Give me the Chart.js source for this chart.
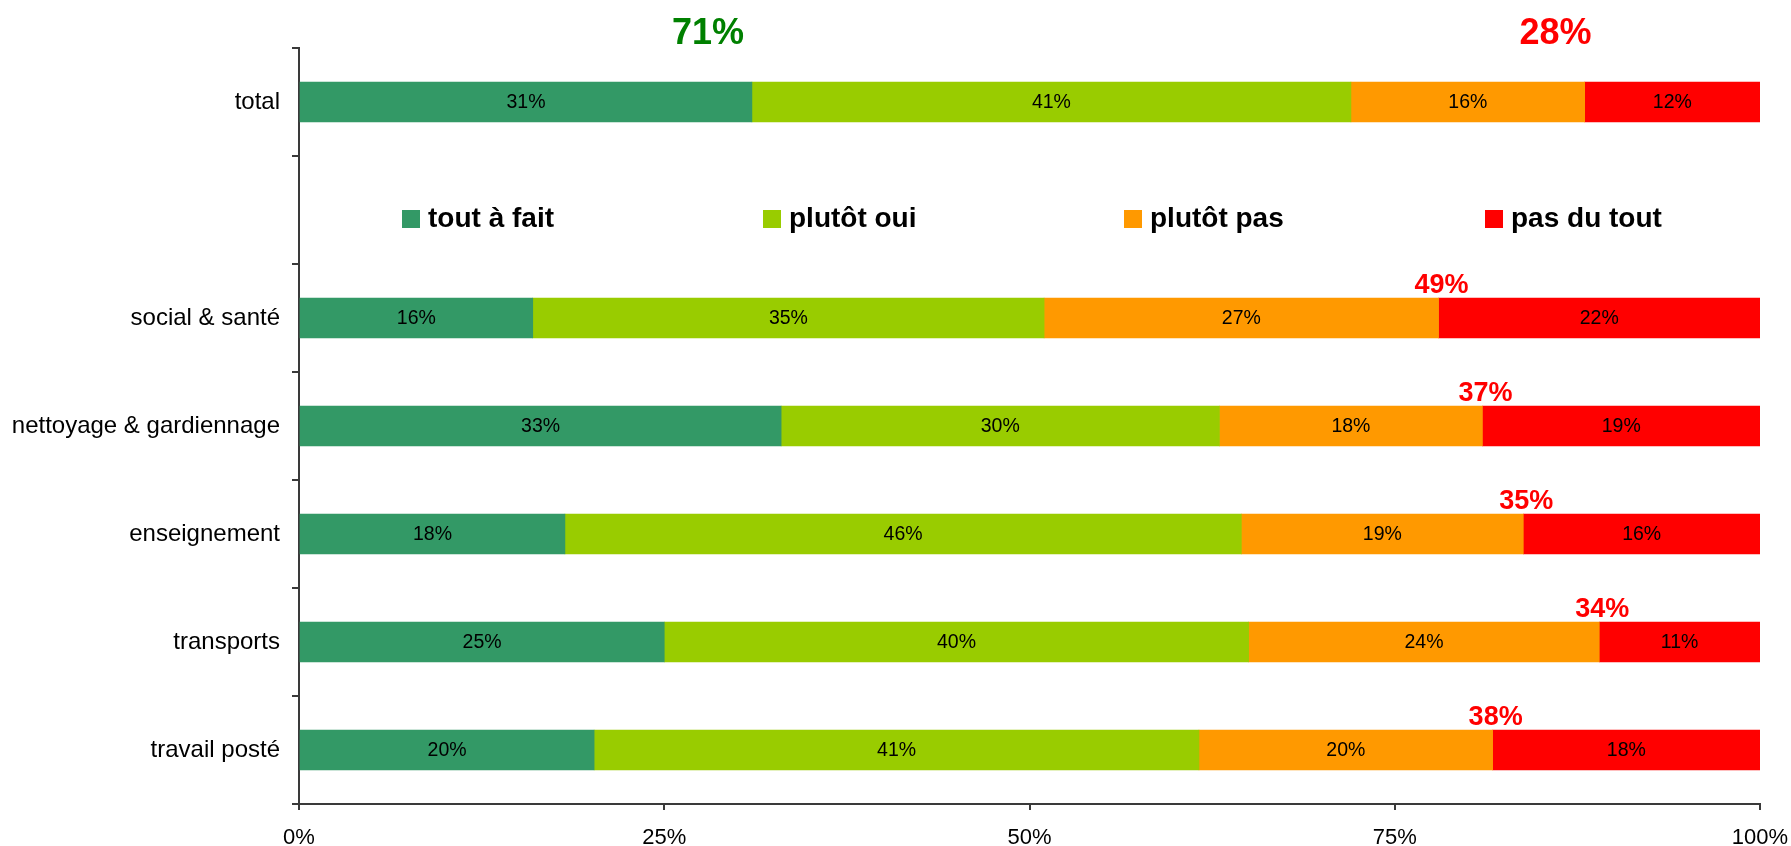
<!DOCTYPE html>
<html><head><meta charset="utf-8">
<script src="https://cdn.jsdelivr.net/npm/chart.js@4.4.1/dist/chart.umd.min.js"></script>
<style>html,body{margin:0;padding:0;background:#fff;overflow:hidden}</style>
</head><body>
<canvas id="c" width="1791" height="846"></canvas>
<script>
// ---- data ----
const categories = ['total', '', 'social & santé', 'nettoyage & gardiennage', 'enseignement', 'transports', 'travail posté'];
const seriesNames = ['tout à fait', 'plutôt oui', 'plutôt pas', 'pas du tout'];
const toutAFait = [31, null, 16, 33, 18.2, 25, 20.2];
const plutotOui = [41, null, 35, 30, 46.3, 40, 41.4];
const plutotPas = [16, null, 27, 18, 19.3, 24, 20.1];
const pasDuTout = [12, null, 22, 19, 16.2, 11, 18.3];
const positiveTotals = ['71%', '', '', '', '', '', ''];
const negativeTotals = ['28%', '', '49%', '37%', '35%', '34%', '38%'];
const xTickValues = [0, 25, 50, 75, 100];

// ---- styles ----
const FONT = '"Liberation Sans", Arial, sans-serif';
const seriesColors = ['#339966', '#99CC00', '#FF9900', '#FF0000'];
const axisColor = '#3a3a3a';

const overlay = {
  id: 'overlay',
  afterDatasetsDraw(chart) {
    const ctx = chart.ctx;
    const xs = chart.scales.x, ys = chart.scales.y;
    const area = chart.chartArea;
    ctx.save();
    // segment labels
    ctx.font = '19.5px ' + FONT;
    ctx.fillStyle = '#000';
    ctx.textAlign = 'center';
    ctx.textBaseline = 'middle';
    chart.data.datasets.forEach((ds, di) => {
      const meta = chart.getDatasetMeta(di);
      meta.data.forEach((bar, i) => {
        const v = ds.data[i];
        if (v == null) return;
        ctx.fillText(Math.round(v) + '%', (bar.x + bar.base) / 2, bar.y + 1);
      });
    });
    // red totals above bars
    const mPas = chart.getDatasetMeta(2);
    const mRed = chart.getDatasetMeta(3);
    ctx.textBaseline = 'alphabetic';
    negativeTotals.forEach((t, i) => {
      if (!t) return;
      const bar = mPas.data[i];
      if (i === 0) {
        ctx.font = 'bold 36px ' + FONT;
        ctx.fillStyle = '#FF0000';
        const cx = (bar.base + mRed.data[i].x) / 2;
        ctx.fillText(t, cx, area.top - 4);
      } else {
        ctx.font = 'bold 27px ' + FONT;
        ctx.fillStyle = '#FF0000';
        ctx.fillText(t, bar.x + 3, bar.y - bar.height / 2 - 5);
      }
    });
    positiveTotals.forEach((t, i) => {
      if (!t) return;
      ctx.font = 'bold 36px ' + FONT;
      ctx.fillStyle = '#008000';
      ctx.fillText(t, xs.getPixelForValue(28), area.top - 4);
    });
    // legend in the empty row
    const ly = ys.getPixelForValue(1) + 9;
    ctx.font = 'bold 28px ' + FONT;
    ctx.textAlign = 'left';
    ctx.textBaseline = 'middle';
    seriesNames.forEach((name, i) => {
      const lx = area.left + 103 + i * 361;
      ctx.fillStyle = seriesColors[i];
      ctx.fillRect(lx, ly - 9, 18, 18);
      ctx.fillStyle = '#000';
      ctx.fillText(name, lx + 26, ly);
    });
    ctx.restore();
  }
};

const seriesData = [toutAFait, plutotOui, plutotPas, pasDuTout];
new Chart(document.getElementById('c'), {
  type: 'bar',
  data: {
    labels: categories,
    datasets: seriesNames.map((n, i) => ({
      label: n,
      data: seriesData[i],
      backgroundColor: seriesColors[i],
      borderWidth: 0,
      barThickness: 40
    }))
  },
  options: {
    indexAxis: 'y',
    responsive: false,
    animation: false,
    devicePixelRatio: 1,
    layout: { padding: { top: 48, right: 31, left: 0, bottom: 0 } },
    plugins: { legend: { display: false }, tooltip: { enabled: false } },
    scales: {
      x: {
        stacked: true,
        min: 0, max: 100,
        afterBuildTicks(scale) { scale.ticks = xTickValues.map(v => ({ value: v })); },
        afterFit(scale) { scale.height = 42; scale.paddingLeft = 0; scale.paddingRight = 0; },
        ticks: { callback: v => v + '%', color: '#000', font: { family: FONT, size: 22 }, padding: 15, maxRotation: 0 },
        grid: { drawOnChartArea: false, drawTicks: true, tickLength: 6, color: axisColor, lineWidth: 2 },
        border: { display: true, color: axisColor, width: 2 }
      },
      y: {
        stacked: true,
        afterFit(scale) { scale.width = 299; scale.paddingTop = 0; scale.paddingBottom = 0; },
        ticks: { color: '#000', font: { family: FONT, size: 24 }, padding: 12 },
        grid: { drawOnChartArea: false, drawTicks: true, tickLength: 7, color: axisColor, lineWidth: 2, offset: true },
        border: { display: true, color: axisColor, width: 2 }
      }
    }
  },
  plugins: [overlay]
});
</script>
</body></html>
